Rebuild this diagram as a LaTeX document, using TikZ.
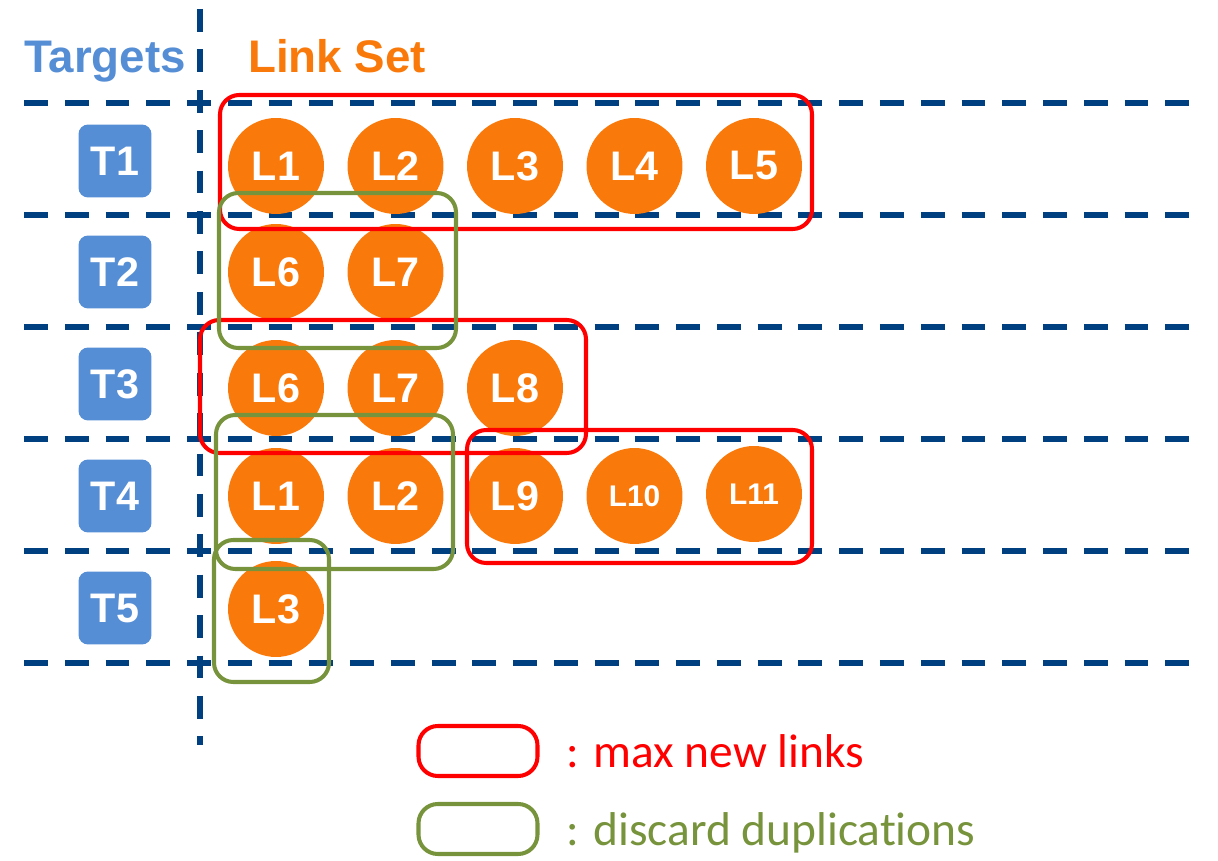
\documentclass[tikz,border=0pt]{standalone}
\usepackage{fontspec}
\setmainfont{Liberation Sans}
\newfontfamily\legendfont[Ligatures=NoCommon]{Carlito}
\usetikzlibrary{positioning}

\definecolor{tgtblue}{HTML}{558ED5}
\definecolor{linkorange}{HTML}{F97A0B}
\definecolor{rowblue}{HTML}{003F80}
\definecolor{maxred}{HTML}{FF0000}
\definecolor{dupgreen}{HTML}{77933C}

\tikzset{
  target/.style={fill=tgtblue, rounded corners=5.5pt, minimum size=1.46cm, inner sep=0pt,
    text=white, font=\bfseries\fontsize{23.5}{23.5}\selectfont},
  link/.style={circle, fill=linkorange, minimum size=1.92cm, inner sep=0pt,
    text=white, font=\bfseries\fontsize{23.5}{23.5}\selectfont},
  smalllink/.style={link, font=\bfseries\fontsize{17}{17}\selectfont},
  rowline/.style={rowblue, line width=3.1pt, dash pattern=on 13.6pt off 9.6pt},
  colline/.style={rowblue, line width=3.1pt, dash pattern=on 13pt off 10pt},
  maxbox/.style={draw=maxred, line width=2.3pt, rounded corners=11pt},
  dupbox/.style={draw=dupgreen, line width=2.3pt, rounded corners=11pt},
  legendbox/.style={minimum width=2.38cm, minimum height=1cm, inner sep=0pt},
  legendtext/.style={inner sep=0pt, anchor=base west, font=\legendfont\fontsize{27}{27}\selectfont}
}

\begin{document}
\begin{tikzpicture}[x=0.02cm, y=-0.02cm]
  \useasboundingbox (0,0) rectangle (1218,861);

  % table rules
  \foreach \y in {103,215,327,439,551,663}
    \draw[rowline] (24,\y) -- (1205,\y);
  \draw[colline] (200,9) -- (200,745);

  % column headings
  \node[inner sep=0pt, anchor=base, text=tgtblue, font=\bfseries\fontsize{26}{26}\selectfont] (targets) at (105,73) {Targets};
  \node[inner sep=0pt, anchor=base west, text=linkorange, font=\bfseries\fontsize{26}{26}\selectfont] (linkset) at (248,73) {Link Set};

  % targets
  \foreach \i/\y in {1/161,2/272,3/384,4/496,5/608}
    \node[target] (t\i) at (115,\y) {T\i};

  % link sets per target: row/column/height/label
  \foreach \r/\c/\y/\lab in {1/1/166/L1,1/2/166/L2,1/3/166/L3,1/4/166/L4,1/5/166/L5,
                             2/1/272/L6,2/2/272/L7,
                             3/1/388/L6,3/2/388/L7,3/3/388/L8,
                             4/1/496/L1,4/2/496/L2,4/3/496/L9,
                             5/1/609/L3}
    \node[link] (l\r\c) at (156.5+119.5*\c,\y) {\lab};
  \node[smalllink] (l44) at (634.5,496) {L10};
  \node[smalllink] (l45) at (754,494) {L11};

  % groupings
  \draw[maxbox] (220,95) rectangle (812,229);
  \draw[maxbox] (200,320) rectangle (586,453);
  \draw[maxbox] (467,430) rectangle (812,563);
  \draw[dupbox] (219,193) rectangle (456,348);
  \draw[dupbox] (216,415) rectangle (453,569);
  \draw[dupbox] (214,540) rectangle (329,682);

  % legend
  \node[legendbox, maxbox] (lgmax) at (478,751) {};
  \node[legendbox, dupbox] (lgdup) at (478,829) {};
  \node[legendtext, text=maxred] (lgmaxtext) at (566,767) {: max new links};
  \node[legendtext, text=dupgreen] (lgduptext) at (566,845) {: discard duplications};
\end{tikzpicture}
\end{document}
